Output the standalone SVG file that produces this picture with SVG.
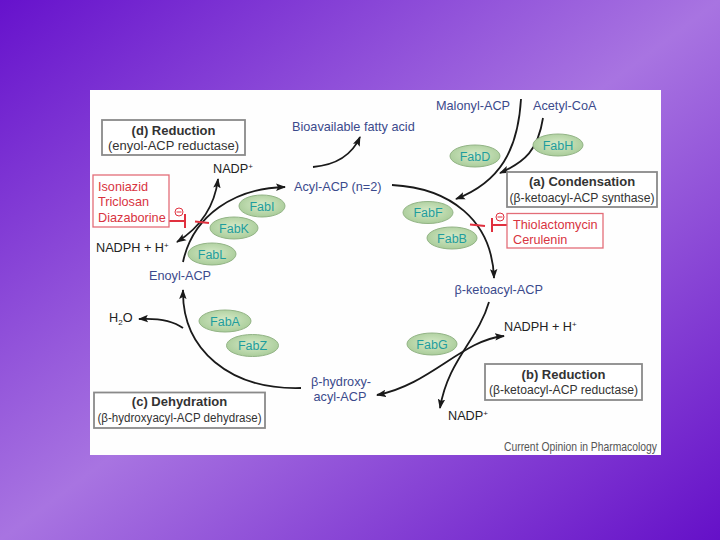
<svg xmlns="http://www.w3.org/2000/svg" width="720" height="540" viewBox="0 0 720 540">
<defs>
<linearGradient id="bg" x1="0" y1="0" x2="1" y2="1">
<stop offset="0" stop-color="#6612cc"/>
<stop offset="0.5" stop-color="#a874e1"/>
<stop offset="1" stop-color="#6510c8"/>
</linearGradient>
<radialGradient id="enz" cx="0.5" cy="0.45" r="0.6">
<stop offset="0" stop-color="#d6eac8"/>
<stop offset="1" stop-color="#a6ca96"/>
</radialGradient>
<marker id="ah" viewBox="0 0 10 8" refX="9" refY="4" markerWidth="10" markerHeight="8" markerUnits="userSpaceOnUse" orient="auto-start-reverse">
<path d="M0,0.3 L10,4 L0,7.7 L2,4 z" fill="#1a1a1a"/>
</marker>
<style>
text{font-family:"Liberation Sans",Arial,sans-serif;font-size:12.7px}
.blue{fill:#3b4a8c}
.blk{fill:#222}
.red{fill:#d8343f}
.enz ellipse{fill:url(#enz);stroke:#93b486;stroke-width:1}
.enz text{fill:#1f9d9d;font-size:12.5px;text-anchor:middle}
.box rect{fill:#fff;stroke:#8a8a8a;stroke-width:1.8}
.box .t{font-weight:bold;fill:#333;font-size:13px;text-anchor:middle}
.box .s{fill:#333;font-size:12.5px;text-anchor:middle}
.rbox rect{fill:#fff;stroke:#e36d78;stroke-width:1.3}
.conn path{fill:none;stroke:#1a1a1a;stroke-width:1.8}
.inh path,.inh circle{fill:none;stroke:#e0303e;stroke-width:2}
.inh circle{stroke-width:1}
.inh .m{stroke-width:1}
</style>
</defs>
<rect width="720" height="540" fill="url(#bg)"/>
<rect x="90" y="90" width="571" height="365" fill="#fefefe"/>

<g id="connectors" class="conn">
<path d="M521,99 C518,150 500,182 456,199" marker-end="url(#ah)"/>
<path d="M543,118 C538,150 525,162 500,173" marker-end="url(#ah)"/>
<path d="M392,185 C450,188 492,220 494,278" marker-end="url(#ah)"/>
<path d="M489,302 C478,340 448,360 440,408" marker-end="url(#ah)"/>
<path d="M377,395 C430,385 462,340 504,336" marker-start="url(#ah)" marker-end="url(#ah)"/>
<path d="M301,388 C230,390 182,350 183,290" marker-end="url(#ah)"/>
<path d="M183,328 C172,320 158,318 139,319" marker-end="url(#ah)"/>
<path d="M183,262 C193,215 235,188 285,187" marker-end="url(#ah)"/>
<path d="M177,242 C196,230 214,212 218,179" marker-start="url(#ah)" marker-end="url(#ah)"/>
<path d="M313,167 C335,165 352,155 360,137" marker-end="url(#ah)"/>
</g>

<g id="inhibitor-left" class="inh">
<path d="M169,221 H185 M185,214 V228 M195,221.5 L209,223"/>
<circle cx="179" cy="212" r="4"/>
<path class="m" d="M176.5,212 H181.5"/>
</g>
<g id="inhibitor-right" class="inh">
<path d="M507,225 H492 M492,218 V232 M470,224.5 L485,226"/>
<circle cx="500" cy="217" r="4"/>
<path class="m" d="M497.5,217 H502.5"/>
</g>

<g id="box-d" class="box">
<rect x="102" y="120" width="143" height="35"/>
<text class="t" x="173.5" y="134.5">(d) Reduction</text>
<text class="s" x="173.5" y="150" textLength="131" lengthAdjust="spacingAndGlyphs">(enyol-ACP reductase)</text>
</g>
<g id="box-a" class="box">
<rect x="507" y="172" width="150" height="35"/>
<text class="t" x="582" y="186">(a) Condensation</text>
<text class="s" x="582" y="201.5" textLength="145" lengthAdjust="spacingAndGlyphs">(β-ketoacyl-ACP synthase)</text>
</g>
<g id="box-b" class="box">
<rect x="485" y="364" width="157" height="36"/>
<text class="t" x="563.5" y="378.5">(b) Reduction</text>
<text class="s" x="563.5" y="394" textLength="149" lengthAdjust="spacingAndGlyphs">(β-ketoacyl-ACP reductase)</text>
</g>
<g id="box-c" class="box">
<rect x="94" y="392.5" width="171" height="35.5"/>
<text class="t" x="179.5" y="406">(c) Dehydration</text>
<text class="s" x="179.5" y="421.5" textLength="164" lengthAdjust="spacingAndGlyphs">(β-hydroxyacyl-ACP dehydrase)</text>
</g>

<g id="inhibitors-1" class="rbox">
<rect x="93" y="175" width="76" height="52"/>
<text class="red" x="98" y="190.5">Isoniazid</text>
<text class="red" x="98" y="206">Triclosan</text>
<text class="red" x="98" y="221.5">Diazaborine</text>
</g>
<g id="inhibitors-2" class="rbox">
<rect x="507" y="213.5" width="96" height="34.5"/>
<text class="red" x="513" y="228.5">Thiolactomycin</text>
<text class="red" x="513" y="243.5">Cerulenin</text>
</g>

<g id="enz-FabD" class="enz"><ellipse cx="475" cy="156" rx="25" ry="11"/><text x="475" y="160.5">FabD</text></g>
<g id="enz-FabH" class="enz"><ellipse cx="558" cy="145" rx="25" ry="11"/><text x="558" y="149.5">FabH</text></g>
<g id="enz-FabF" class="enz"><ellipse cx="428" cy="212.5" rx="25" ry="11"/><text x="428" y="217">FabF</text></g>
<g id="enz-FabB" class="enz"><ellipse cx="452" cy="238" rx="25" ry="11"/><text x="452" y="242.5">FabB</text></g>
<g id="enz-FabI" class="enz"><ellipse cx="262" cy="206" rx="23" ry="11"/><text x="262" y="210.5">FabI</text></g>
<g id="enz-FabK" class="enz"><ellipse cx="234" cy="228" rx="24" ry="11"/><text x="234" y="232.5">FabK</text></g>
<g id="enz-FabL" class="enz"><ellipse cx="212" cy="254" rx="24" ry="11"/><text x="212" y="258.5">FabL</text></g>
<g id="enz-FabA" class="enz"><ellipse cx="225" cy="321" rx="26" ry="11"/><text x="225" y="325.5">FabA</text></g>
<g id="enz-FabZ" class="enz"><ellipse cx="252.5" cy="345.5" rx="26" ry="11"/><text x="252.5" y="350">FabZ</text></g>
<g id="enz-FabG" class="enz"><ellipse cx="432" cy="344" rx="25" ry="11"/><text x="432" y="348.5">FabG</text></g>

<g id="labels">
<text id="malonyl" class="blue" x="436" y="109.5">Malonyl-ACP</text>
<text id="acetyl" class="blue" x="533" y="109.5">Acetyl-CoA</text>
<text id="bioavail" class="blue" x="292" y="131">Bioavailable fatty acid</text>
<text id="acyl" class="blue" x="294" y="190.5">Acyl-ACP (n=2)</text>
<text id="ketoacyl" class="blue" x="454.5" y="293.5">β-ketoacyl-ACP</text>
<text id="hydroxy" class="blue" text-anchor="middle"><tspan x="341" y="385.5">β-hydroxy-</tspan><tspan x="340" y="400.5">acyl-ACP</tspan></text>
<text id="enoyl" class="blue" x="149" y="280">Enoyl-ACP</text>
<text class="blk" x="213" y="172.5">NADP<tspan font-size="8" dy="-4">+</tspan></text>
<text class="blk" x="96" y="251.5">NADPH + H<tspan font-size="8" dy="-4">+</tspan></text>
<text class="blk" x="109" y="322">H<tspan font-size="8" dy="3">2</tspan><tspan dy="-3">O</tspan></text>
<text class="blk" x="504" y="330.5">NADPH + H<tspan font-size="8" dy="-4">+</tspan></text>
<text class="blk" x="448" y="420">NADP<tspan font-size="8" dy="-4">+</tspan></text>
<text x="504" y="451" fill="#555" font-size="10.5" textLength="153" lengthAdjust="spacingAndGlyphs">Current Opinion in Pharmacology</text>
</g>
</svg>
